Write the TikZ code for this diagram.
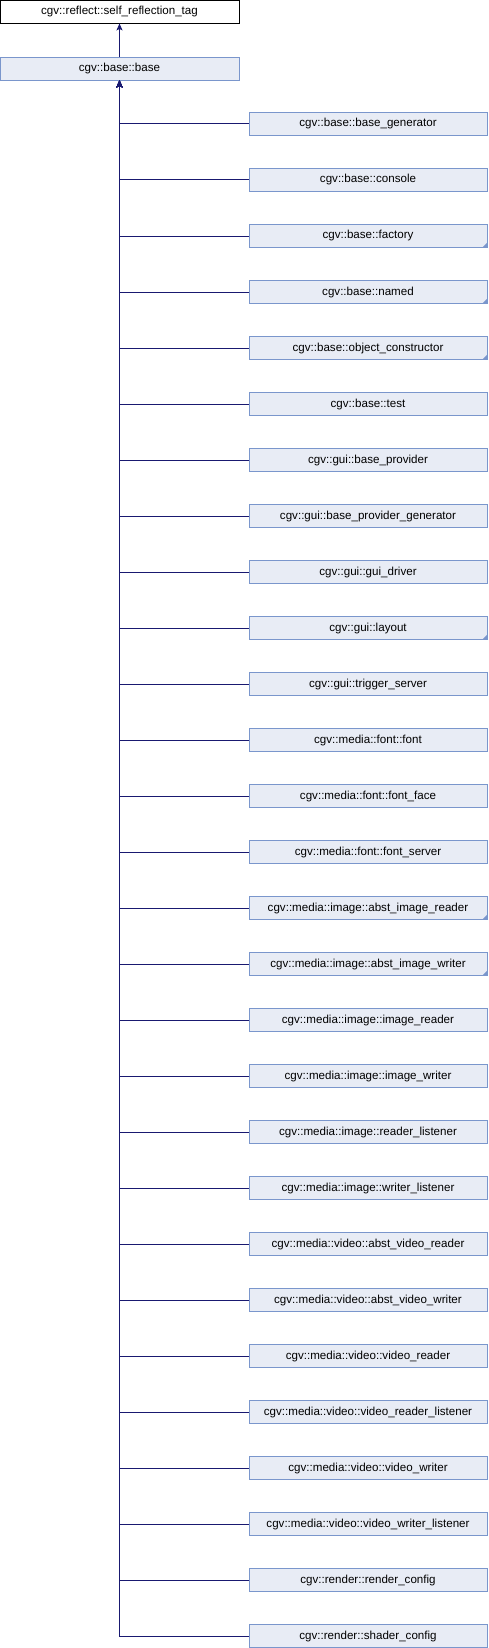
\documentclass[tikz,border=0pt]{standalone}
\usepackage{fontspec}
\setmainfont{Liberation Sans}
\usetikzlibrary{arrows.meta}
\definecolor{boxfill}{RGB}{232,236,245}
\definecolor{boxdraw}{RGB}{122,150,204}
\definecolor{edgecol}{RGB}{25,25,112}
\tikzset{
  cls/.style={draw=boxdraw, fill=boxfill, line width=0.9pt, minimum width=238pt, minimum height=23pt, inner sep=0pt, font=\fontsize{11.6}{13}\selectfont},
  topcls/.style={cls, draw=black, fill=white, minimum width=239pt},
  inh/.style={draw=edgecol, line width=1pt, -{Stealth[length=7pt,width=6pt,inset=1.5pt]}},
  corner/.style={fill=boxdraw}
}
\begin{document}
\begin{tikzpicture}[x=1pt,y=-1pt]
\useasboundingbox (0,0) rectangle (488,1648);
\node[topcls] (tag) at (119.5,11.5) {cgv::reflect::self\_reflection\_tag};
\node[cls, minimum width=239pt] (base) at (119.5,68.5) {cgv::base::base};
\draw[inh] (base.north) -- (tag.south);
\foreach \name [count=\i from 0] in {
  cgv::base::base\_generator,
  cgv::base::console,
  cgv::base::factory,
  cgv::base::named,
  cgv::base::object\_constructor,
  cgv::base::test,
  cgv::gui::base\_provider,
  cgv::gui::base\_provider\_generator,
  cgv::gui::gui\_driver,
  cgv::gui::layout,
  cgv::gui::trigger\_server,
  cgv::media::font::font,
  cgv::media::font::font\_face,
  cgv::media::font::font\_server,
  cgv::media::image::abst\_image\_reader,
  cgv::media::image::abst\_image\_writer,
  cgv::media::image::image\_reader,
  cgv::media::image::image\_writer,
  cgv::media::image::reader\_listener,
  cgv::media::image::writer\_listener,
  cgv::media::video::abst\_video\_reader,
  cgv::media::video::abst\_video\_writer,
  cgv::media::video::video\_reader,
  cgv::media::video::video\_reader\_listener,
  cgv::media::video::video\_writer,
  cgv::media::video::video\_writer\_listener,
  cgv::render::render\_config,
  cgv::render::shader\_config}
{
  \node[cls] (c\i) at (368,124+56*\i) {\name};
  \draw[inh] (c\i.west) -| (base.south);
}
\foreach \i in {2,3,4,9,14,15} {
  \fill[corner] ([xshift=-5pt,yshift=0.45pt]c\i.south east) -- ([xshift=-0.45pt,yshift=0.45pt]c\i.south east) -- ([xshift=-0.45pt,yshift=5pt]c\i.south east) -- cycle;
}
\end{tikzpicture}
\end{document}
